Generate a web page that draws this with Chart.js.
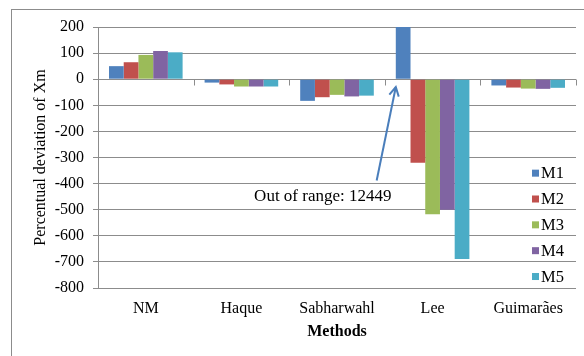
<!DOCTYPE html>
<html><head><meta charset="utf-8">
<script src="https://cdn.jsdelivr.net/npm/chart.js@4/dist/chart.umd.min.js"></script>
<style>html,body{margin:0;padding:0;background:#fff}#w{width:584px;height:356px}</style>
</head><body><div id="w"><canvas id="c" width="584" height="356"></canvas></div>
<script>
const categories = ["NM", "Haque", "Sabharwahl", "Lee", "Guimarães"];
const seriesNames = ["M1", "M2", "M3", "M4", "M5"];
const M1 = [50, -13, -83, 12449, -24];
const M2 = [65, -20, -69, -320, -32];
const M3 = [93, -28, -60, -517, -36];
const M4 = [108, -28, -66, -500, -37];
const M5 = [103, -28, -63, -689, -33];
const colors = ["#4F81BD", "#C0504D", "#9BBB59", "#8064A2", "#4BACC6"];
const yTicks = {min: -800, max: 200, step: 100};
const note = "Out of range: 12449";
const FONT = "'Liberation Serif', 'Times New Roman', serif";
const GRID = "#8c8c8c";

const seriesData = [M1, M2, M3, M4, M5];
const datasets = seriesData.map((d, i) => ({
  label: seriesNames[i], data: d, backgroundColor: colors[i],
  categoryPercentage: 0.77, barPercentage: 1.0, borderWidth: 0
}));

const decor = {
  id: 'decor',
  beforeDraw(chart) {
    const ctx = chart.ctx;
    ctx.save();
    ctx.strokeStyle = "#8c8c8c"; ctx.lineWidth = 1;
    ctx.strokeRect(11.5, 9.5, 700, 500);
    ctx.restore();
  },
  afterDraw(chart) {
    const ctx = chart.ctx, xs = chart.scales.x, ys = chart.scales.y;
    ctx.save();
    const y0 = Math.round(ys.getPixelForValue(0)) + 0.5;
    ctx.strokeStyle = GRID; ctx.lineWidth = 1;
    ctx.beginPath();
    const n = categories.length;
    const cw = (chart.chartArea.right - chart.chartArea.left) / n;
    for (let i = 0; i <= n; i++) {
      const x = Math.round(chart.chartArea.left + i * cw) + 0.5;
      ctx.moveTo(x, y0); ctx.lineTo(x, y0 + 6);
    }
    ctx.stroke();
    // arrow and note
    const leeX = xs.getPixelForValue(3);
    const tipX = leeX - 0.385 * cw, tipY = ys.getPixelForValue(-30);
    const tailX = leeX - 0.585 * cw, tailY = ys.getPixelForValue(-388);
    ctx.strokeStyle = "#4A7EBB"; ctx.lineWidth = 2;
    ctx.beginPath(); ctx.moveTo(tailX, tailY); ctx.lineTo(tipX, tipY); ctx.stroke();
    const ang = Math.atan2(tipY - tailY, tipX - tailX);
    const hl = 10;
    ctx.beginPath();
    ctx.moveTo(tipX - hl * Math.cos(ang - 0.5), tipY - hl * Math.sin(ang - 0.5));
    ctx.lineTo(tipX, tipY);
    ctx.lineTo(tipX - hl * Math.cos(ang + 0.5), tipY - hl * Math.sin(ang + 0.5));
    ctx.stroke();
    ctx.fillStyle = "#000"; ctx.font = "17px " + FONT;
    ctx.textAlign = "right"; ctx.textBaseline = "middle";
    ctx.fillText(note, leeX - 0.43 * cw, ys.getPixelForValue(-450));
    // legend
    ctx.textAlign = "left";
    ctx.font = "16.5px " + FONT;
    const lx = chart.chartArea.right - 44;
    for (let i = 0; i < seriesNames.length; i++) {
      const cy = ys.getPixelForValue(-360 - i * 99);
      ctx.fillStyle = colors[i];
      ctx.fillRect(lx, cy - 3.5, 7, 7);
      ctx.fillStyle = "#000";
      ctx.fillText(seriesNames[i], lx + 9, cy + 1);
    }
    ctx.restore();
  }
};

new Chart(document.getElementById('c'), {
  type: 'bar',
  data: {labels: categories, datasets},
  plugins: [decor],
  options: {
    responsive: false, animation: false,
    layout: {padding: {left: 31, right: 8, top: 27, bottom: 0}},
    plugins: {legend: {display: false}, tooltip: {enabled: false}},
    scales: {
      x: {
        grid: {display: false, drawTicks: false}, border: {display: false},
        ticks: {color: "#000", font: {family: FONT, size: 16}, padding: 11},
        title: {display: true, text: "Methods", color: "#000", font: {family: FONT, size: 16, weight: 'bold'}, padding: {top: 0, bottom: 15}},
        afterFit(s) { s.height = 68; }
      },
      y: {
        min: yTicks.min, max: yTicks.max,
        ticks: {stepSize: yTicks.step, color: "#000", font: {family: FONT, size: 16}, padding: 9},
        grid: {color: GRID, tickLength: 5},
        border: {color: GRID},
        title: {display: true, text: "Percentual deviation of Xm", color: "#000", font: {family: FONT, size: 16}, padding: {top: 0, bottom: 0}},
        afterFit(s) { s.width = 67; }
      }
    }
  }
});
</script></body></html>
